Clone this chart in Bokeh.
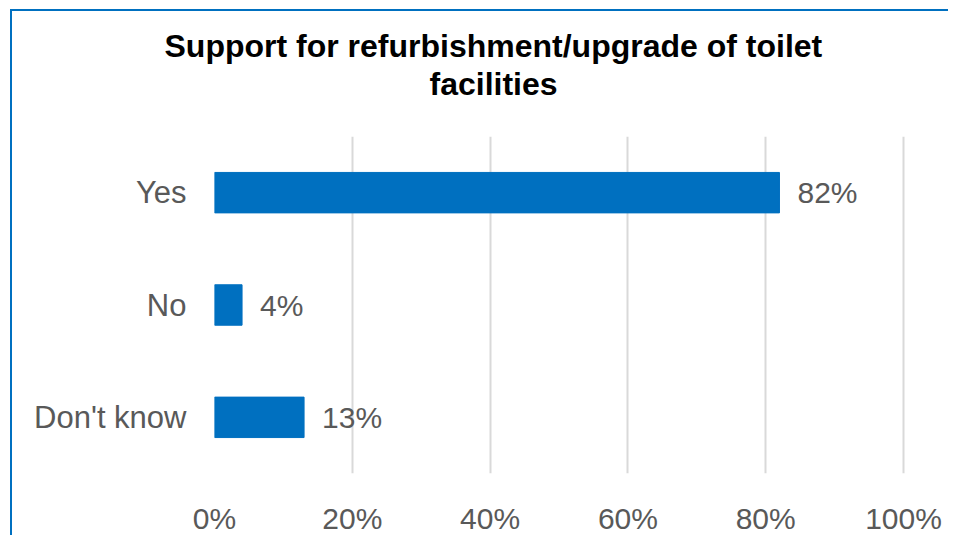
from bokeh.plotting import figure
from bokeh.models import ColumnDataSource, LabelSet, Title, Range1d, FactorRange, FixedTicker, NumeralTickFormatter
from bokeh.core.properties import value
from bokeh.embed import file_html
from bokeh.resources import INLINE

categories = ["Yes", "No", "Don't know"]
values = [0.82, 0.04, 0.13]
labels = ["82%", "4%", "13%"]
ticks = [0, 0.2, 0.4, 0.6, 0.8, 1.0]
title_lines = ["Support for refurbishment/upgrade of toilet", "facilities"]

BLUE = "#0070C0"
GREY = "#595959"
FONT = "Liberation Sans"

src = ColumnDataSource(dict(cat=categories, val=values, lab=labels))

W, H = 938, 526
p = figure(width=W, height=H, output_backend="svg", toolbar_location=None,
           y_range=FactorRange(factors=list(reversed(categories))),
           x_range=Range1d(0, 1.0029),
           min_border_left=202, min_border_right=45,
           min_border_top=125, min_border_bottom=60)
p.margin = (9, 0, 0, 10)
p.styles = {"border-left": "2px solid #0070C0", "border-top": "2px solid #0070C0"}
p.outline_line_color = None
p.background_fill_color = "white"
p.border_fill_color = "white"

p.hbar(y="cat", right="val", left=0, height=0.36, source=src, color=BLUE)

p.add_layout(LabelSet(x="val", y="cat", text="lab", source=src, x_offset=18,
                      text_baseline="middle", text_font=value(FONT),
                      text_font_size="30px", text_color=GREY))

p.xaxis.ticker = FixedTicker(ticks=ticks)
p.xaxis.formatter = NumeralTickFormatter(format="0%")
for ax in (p.xaxis, p.yaxis):
    ax.axis_line_color = None
    ax.major_tick_line_color = None
    ax.minor_tick_line_color = None
    ax.major_label_text_font = FONT
    ax.major_label_text_color = GREY
p.xaxis.major_label_text_font_size = "30px"
p.yaxis.major_label_text_font_size = "31px"
p.yaxis.major_label_standoff = 22
p.xaxis.major_label_standoff = 22

p.ygrid.grid_line_color = None
p.xgrid.grid_line_color = "#D9D9D9"
p.xgrid.grid_line_width = 2

t2 = Title(text=title_lines[1], align="left", offset=215, text_font=FONT,
           text_font_size="32px", text_font_style="bold", text_color="black", standoff=69)
t1 = Title(text=title_lines[0], align="left", offset=-50, text_font=FONT,
           text_font_size="32px", text_font_style="bold", text_color="black", standoff=-68)
p.add_layout(t2, "above")
p.add_layout(t1, "above")

open("out.html", "w").write(file_html(p, INLINE))
